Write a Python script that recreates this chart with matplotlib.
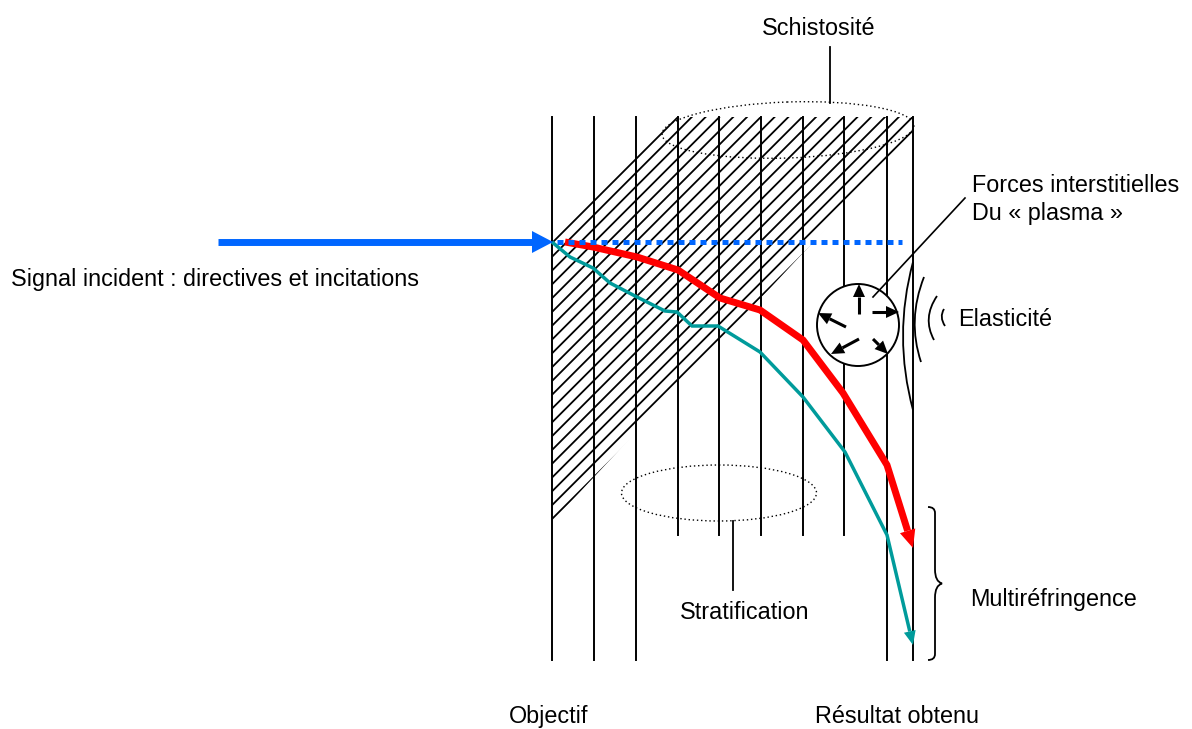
import matplotlib.pyplot as plt
import numpy as np
from matplotlib.patches import Polygon, Ellipse, Circle, PathPatch
from matplotlib.collections import LineCollection
from matplotlib.path import Path

# tout est en pixels (axe y vers le bas)
W, H = 1192, 729
FONT = ['Liberation Sans', 'DejaVu Sans']
FS = 16.8

# strates verticales
LINE_X = [552, 594, 636, 678, 719, 761, 803, 844, 887, 913]
LINE_TOP = 117
LINE_BOTTOM = [660, 660, 660, 535, 535, 535, 535, 535, 660, 660]

# zone hachuree (schistosite), un peu elargie pour garder les bords
HATCH_X = [552, 552, 675, 913, 913, 552]
HATCH_Y = [240, 240, 117, 117, 135, 522]
HATCH_C = [795, 1074]
HATCH_STEP = 13.8

# signal incident
SIGNAL_X = [218, 553]
SIGNAL_Y = 242
DOTTED_X = [557, 902]

# trajets
RED_X = [565, 593, 637, 678, 720, 760, 803, 843, 887, 913]
RED_Y = [242, 247, 257, 270, 298, 310, 340, 393, 465, 548]
TEAL_X = [552, 570, 593, 610, 637, 665, 677, 692, 718, 760, 803, 845, 887, 913]
TEAL_Y = [242, 257, 268, 283, 297, 311, 312, 326, 326, 352, 397, 452, 535, 645]

# cellule "plasma"
CIRCLE_C = (858, 325)
CIRCLE_R = 41
FORCE_TAILS = [(859, 314), (872, 312), (846, 327), (859, 339), (873, 339)]
FORCE_TIPS = [(859, 284), (899, 312), (818, 313), (831, 354), (888, 354)]

# arcs d'elasticite (debut, controle, fin)
ARCS = [((913, 262), (893, 336), (913, 410)),
        ((924, 277), (907, 320), (921, 362)),
        ((937, 296), (922, 318), (934, 340)),
        ((944, 309), (939, 317), (945, 326))]

BLUE = '#0066ff'
RED = '#ff0000'
TEAL = '#009b9b'


def arrow_head(ax, tail, tip, length, width, color, z):
    tail = np.array(tail, float)
    tip = np.array(tip, float)
    d = (tip - tail) / np.hypot(*(tip - tail))
    n = np.array([-d[1], d[0]])
    base = tip - d * length
    ax.add_patch(Polygon([tip, base + n * width / 2, base - n * width / 2],
                         closed=True, facecolor=color, edgecolor='none', zorder=z))
    return base


def path_with_head(ax, xs, ys, color, lw, hl, hw, z):
    xs = list(xs)
    ys = list(ys)
    base = arrow_head(ax, (xs[-2], ys[-2]), (xs[-1], ys[-1]), hl, hw, color, z)
    ax.plot(xs[:-1] + [base[0]], ys[:-1] + [base[1]], color=color, lw=lw,
            solid_joinstyle='miter', solid_capstyle='butt', zorder=z)


fig = plt.figure(figsize=(W / 100, H / 100), dpi=100)
ax = fig.add_axes([0, 0, 1, 1])
ax.set_xlim(0, W)
ax.set_ylim(H, 0)
ax.axis('off')

# hachures
poly = Polygon(list(zip(HATCH_X, HATCH_Y)), closed=True, facecolor='none',
               edgecolor='none')
ax.add_patch(poly)
segs = []
for c in np.arange(HATCH_C[0], HATCH_C[1], HATCH_STEP):
    segs.append([(c - 100, 100), (c - 560, 560)])
hatch = LineCollection(segs, colors='black', linewidths=1.3, zorder=2)
ax.add_collection(hatch)
hatch.set_clip_path(poly)

# strates
for x, yb in zip(LINE_X, LINE_BOTTOM):
    ax.plot([x, x], [LINE_TOP, yb], color='black', lw=1.4, zorder=3)

# ellipses pointillees
ax.add_patch(Ellipse((788, 130), 252, 56, angle=-2, fill=False, ls=(0, (1, 2)),
                     lw=1.0, edgecolor='black', zorder=4))
ax.add_patch(Ellipse((719, 493), 195, 56, fill=False, ls=(0, (1, 2)),
                     lw=1.0, edgecolor='black', zorder=4))
ax.plot([830, 830], [47, 103], color='black', lw=1.3)
ax.plot([733, 733], [521, 590], color='black', lw=1.3)

# signal incident
path_with_head(ax, SIGNAL_X, [SIGNAL_Y, SIGNAL_Y], BLUE, 5.0, 21, 22, 6)
ax.plot(DOTTED_X, [SIGNAL_Y, SIGNAL_Y], color=BLUE, lw=3.6,
        ls=(0, (1.2, 1.0)), dash_capstyle='butt', zorder=7)

# trajets rouge et turquoise
path_with_head(ax, RED_X, RED_Y, RED, 5.0, 18, 16, 6)
path_with_head(ax, TEAL_X, TEAL_Y, TEAL, 2.5, 14, 12, 5)

# cellule et forces
ax.add_patch(Circle(CIRCLE_C, CIRCLE_R, facecolor='white', edgecolor='black',
                    lw=1.4, zorder=8))
for t, p in zip(FORCE_TAILS, FORCE_TIPS):
    path_with_head(ax, [t[0], p[0]], [t[1], p[1]], 'black', 2.2, 13, 12, 9)
ax.plot([873, 965], [297, 198], color='black', lw=1.2, zorder=9)

# elasticite
for p0, c, p1 in ARCS:
    pp = Path([p0, c, p1], [Path.MOVETO, Path.CURVE3, Path.CURVE3])
    ax.add_patch(PathPatch(pp, fill=False, lw=1.3, edgecolor='black', zorder=4))

# accolade
bx, by0, by1, tip = 928, 507, 660, 942
ym = (by0 + by1) / 2
verts = [(bx, by0), (bx + 7, by0), (bx + 7, by0 + 6), (bx + 7, by0 + 14),
         (bx + 7, ym - 14), (bx + 7, ym - 2), (tip, ym),
         (bx + 7, ym + 2), (bx + 7, ym + 14),
         (bx + 7, by1 - 14), (bx + 7, by1 - 6), (bx + 7, by1), (bx, by1)]
codes = [Path.MOVETO, Path.CURVE3, Path.CURVE3, Path.LINETO,
         Path.LINETO, Path.CURVE3, Path.CURVE3,
         Path.CURVE3, Path.CURVE3,
         Path.LINETO, Path.LINETO, Path.CURVE3, Path.CURVE3]
ax.add_patch(PathPatch(Path(verts, codes), fill=False, lw=1.3, edgecolor='black'))

# textes
kw = dict(family=FONT, fontsize=FS, color='black', va='baseline')
ax.text(819, 35, 'Schistosité', ha='center', **kw)
ax.text(11, 286, 'Signal incident : directives et incitations', ha='left', **kw)
ax.text(972, 192, 'Forces interstitielles', ha='left', **kw)
ax.text(972, 220, 'Du « plasma »', ha='left', **kw)
ax.text(958, 326, 'Elasticité', ha='left', **kw)
ax.text(970, 606, 'Multiréfringence', ha='left', **kw)
ax.text(745, 619, 'Stratification', ha='center', **kw)
ax.text(549, 723, 'Objectif', ha='center', **kw)
ax.text(897, 723, 'Résultat obtenu', ha='center', **kw)

fig.savefig('out.png', dpi=100)
